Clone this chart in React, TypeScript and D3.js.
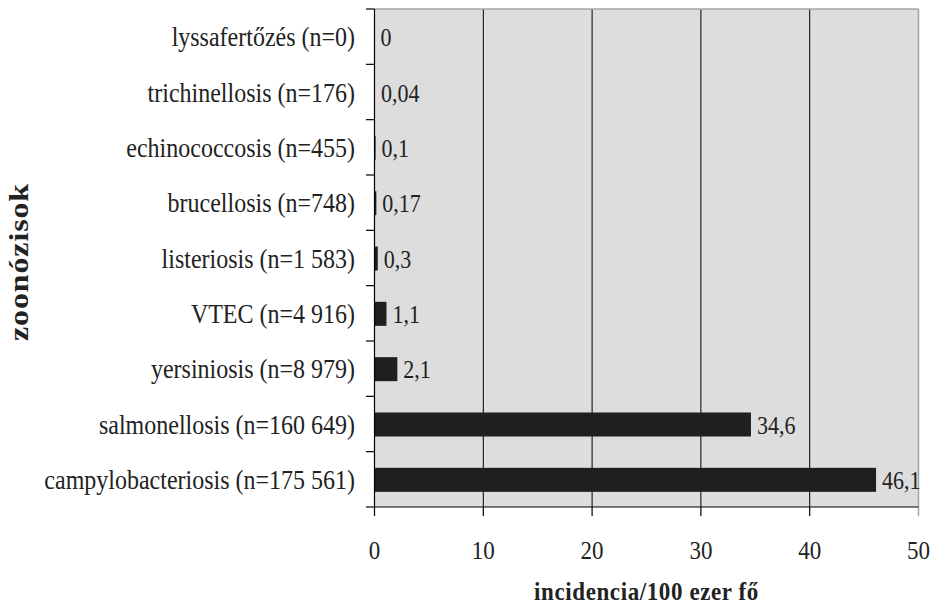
import React from "react";
import * as d3 from "d3";

const categories = [
  "lyssafertőzés (n=0)",
  "trichinellosis (n=176)",
  "echinococcosis (n=455)",
  "brucellosis (n=748)",
  "listeriosis (n=1 583)",
  "VTEC (n=4 916)",
  "yersiniosis (n=8 979)",
  "salmonellosis (n=160 649)",
  "campylobacteriosis (n=175 561)",
];
const values = [0, 0.04, 0.1, 0.17, 0.3, 1.1, 2.1, 34.6, 46.1];
const valueLabels = ["0", "0,04", "0,1", "0,17", "0,3", "1,1", "2,1", "34,6", "46,1"];
const xTicks = [0, 10, 20, 30, 40, 50];
const xTitle = "incidencia/100 ezer fő";
const yTitle = "zoonózisok";

const W = 932, H = 606;
const left = 374.5, right = 918.5, top = 9, bottom = 507;
const font = "'Liberation Serif', 'Times New Roman', serif";
const SY = 1.13;

function SText(props: { x: number; y: number; size: number; anchor?: string; children: React.ReactNode; weight?: string; ls?: number }) {
  return (
    <text
      transform={`translate(${props.x},${props.y}) scale(1,${SY})`}
      textAnchor={props.anchor || "start"}
      fontSize={props.size}
      fontWeight={props.weight || "normal"}
      letterSpacing={props.ls || 0}
      fill="#222"
    >
      {props.children}
    </text>
  );
}

export default function App() {
  const x = d3.scaleLinear().domain([0, 50]).range([left, right]);
  const y = d3.scaleBand().domain(categories).range([top, bottom]).paddingInner(0).paddingOuter(0);
  const bw = y.bandwidth();
  const barH = 24;
  const boundaries = d3.range(categories.length + 1).map((i) => top + i * bw);
  return (
    <svg width={W} height={H} style={{ position: "absolute", left: 0, top: 0 }} fontFamily={font}>
      <rect x={left} y={top} width={right - left} height={bottom - top} fill="#dddddd" />
      {xTicks.slice(1, -1).map((t) => (
        <line key={t} x1={x(t)} x2={x(t)} y1={top} y2={bottom} stroke="#000" strokeWidth={1} />
      ))}
      <line x1={left} x2={right} y1={top} y2={top} stroke="#a6a6a6" strokeWidth={1.5} />
      <line x1={right} x2={right} y1={top} y2={bottom + 9} stroke="#a6a6a6" strokeWidth={1.5} />
      {categories.map((c, i) => {
        const cy = (y(c) as number) + bw / 2;
        return (
          <g key={c}>
            <rect
              x={x(0)}
              y={cy - barH / 2 + 0.5}
              width={x(values[i]) - x(0)}
              height={barH}
              fill="#1f1f1f"
            />
            <SText x={x(values[i]) + 6} y={cy + 9.5} size={22}>
              {valueLabels[i]}
            </SText>
            <SText x={355} y={cy + 9.5} size={24} anchor="end">
              {c}
            </SText>
          </g>
        );
      })}
      <line x1={left} x2={left} y1={top} y2={bottom} stroke="#000" strokeWidth={1.2} />
      {boundaries.map((b, i) => (
        <line key={i} x1={366} x2={left} y1={b} y2={b} stroke="#000" strokeWidth={1.2} />
      ))}
      <line x1={left} x2={right} y1={bottom} y2={bottom} stroke="#000" strokeWidth={1.2} />
      {xTicks.slice(0, -1).map((t) => (
        <line key={t} x1={x(t)} x2={x(t)} y1={bottom} y2={bottom + 9} stroke="#000" strokeWidth={1.2} />
      ))}
      {xTicks.map((t) => (
        <SText key={t} x={x(t)} y={559} size={23} anchor="middle">
          {t}
        </SText>
      ))}
      <SText x={(left + right) / 2} y={600} size={23} anchor="middle" weight="bold" ls={0.6}>
        {xTitle}
      </SText>
      <text
        transform={`translate(27.5,262) rotate(-90) scale(1.14,1)`}
        textAnchor="middle"
        fontSize={28}
        fontWeight="bold"
        letterSpacing={0.8}
        fill="#222"
      >
        {yTitle}
      </text>
    </svg>
  );
}
